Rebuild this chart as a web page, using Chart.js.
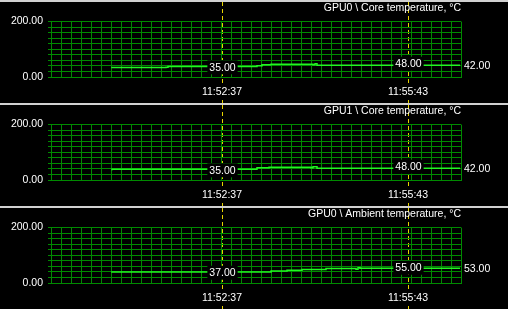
<!DOCTYPE html>
<html>
<head>
<meta charset="utf-8">
<script src="https://cdn.jsdelivr.net/npm/chart.js@4/dist/chart.umd.min.js"></script>
<style>
    html, body { margin: 0; padding: 0; background: #000; overflow: hidden; }
    .panel { width: 508px; height: 101px; border-top: 2px solid #d0d0d0; }
    canvas { display: block; }
</style>
</head>
<body>
<div class="panel"><canvas id="graph0" width="508" height="101"></canvas></div>
<div class="panel"><canvas id="graph1" width="508" height="101"></canvas></div>
<div class="panel"><canvas id="graph2" width="508" height="101"></canvas></div>
<script>
// Ventana visible del monitor
const inicioVentana = '11:49:46';
const duracionVentana = 410; // segundos
const cursores = ['11:52:37', '11:55:43'];

const yMin = 0;
const yMax = 200;
const yPaso = 20;
const yEtiquetas = [0, 200];

const titulos = [
    'GPU0 \\ Core temperature, °C',
    'GPU1 \\ Core temperature, °C',
    'GPU0 \\ Ambient temperature, °C'
];

// GPU0 core
const gpu0CoreTiempos = ['11:50:47', '11:51:41', '11:51:43', '11:53:12', '11:53:17', '11:53:26', '11:54:08', '11:54:10', '11:54:12', '11:56:16', '11:56:35'];
const gpu0CoreValores = [37, 34, 35, 38, 41, 44, 46, 44, 48, 42, 42];

// GPU1 core
const gpu1CoreTiempos = ['11:50:47', '11:53:12', '11:53:24', '11:54:06', '11:54:08', '11:54:12', '11:56:16', '11:56:35'];
const gpu1CoreValores = [35, 39, 44, 46, 44, 48, 42, 42];

// GPU0 ambient
const gpu0AmbTiempos = ['11:50:47', '11:53:26', '11:53:42', '11:53:57', '11:54:21', '11:54:51', '11:54:53', '11:54:55', '11:56:21', '11:56:35'];
const gpu0AmbValores = [37, 40, 43, 46, 49, 52, 50, 55, 53, 53];

const verdeRejilla = '#008a00';
const verdeLinea = '#22f522';
const amarilloCursor = '#e8d400';
const colorTexto = '#ffffff';
const fuente = { family: '"Liberation Sans", Arial, sans-serif', size: 10.5 };

function aSegundos(hora) {
    const [h, m, s] = hora.split(':').map(Number);
    return h * 3600 + m * 60 + s;
}

function aHora(seg) {
    const h = Math.floor(seg / 3600);
    const m = Math.floor((seg % 3600) / 60);
    const s = seg % 60;
    return [h, m, s].map(n => String(n).padStart(2, '0')).join(':');
}

const base = aSegundos(inicioVentana);
const posCursores = cursores.map(c => aSegundos(c) - base);

function valorEn(puntos, x) {
    let v = null;
    puntos.forEach(p => { if (p.x <= x) v = p.y; });
    return v;
}

function etiquetaCaja(ctx, texto, x, y, alinear) {
    ctx.font = `${fuente.size}px ${fuente.family}`;
    const w = ctx.measureText(texto).width;
    const izq = alinear === 'left' ? x : x - w / 2;
    ctx.fillStyle = '#000';
    ctx.fillRect(izq - 2, y - 7, w + 4, 14);
    ctx.fillStyle = colorTexto;
    ctx.textAlign = 'left';
    ctx.textBaseline = 'middle';
    ctx.fillText(texto, izq, y + 0.5);
}

const cursoresPlugin = {
    id: 'cursores',
    beforeDraw(chart) {
        const ctx = chart.ctx;
        const escalaX = chart.scales.x;
        ctx.save();
        ctx.strokeStyle = amarilloCursor;
        ctx.lineWidth = 1;
        ctx.setLineDash([4, 3]);
        posCursores.forEach(c => {
            const px = Math.round(escalaX.getPixelForValue(c)) + 0.5;
            ctx.beginPath();
            ctx.moveTo(px, 0);
            ctx.lineTo(px, chart.height);
            ctx.stroke();
        });
        ctx.restore();
    },
    afterDatasetsDraw(chart) {
        const ctx = chart.ctx;
        const escalaX = chart.scales.x;
        const escalaY = chart.scales.y;
        const puntos = chart.data.datasets[0].data;
        ctx.save();
        posCursores.forEach(c => {
            const v = valorEn(puntos, c);
            etiquetaCaja(ctx, v.toFixed(2), Math.round(escalaX.getPixelForValue(c)) + 0.5, escalaY.getPixelForValue(v), 'center');
        });
        const ultimo = puntos[puntos.length - 1].y;
        etiquetaCaja(ctx, ultimo.toFixed(2), chart.chartArea.right + 3, escalaY.getPixelForValue(ultimo), 'left');
        ctx.restore();
    }
};

function crearGrafica(id, titulo, tiempos, valores) {
    const puntos = tiempos.map((t, i) => ({ x: aSegundos(t) - base, y: valores[i] }));
    return new Chart(document.getElementById(id), {
        type: 'line',
        data: {
            datasets: [{
                data: puntos,
                borderColor: verdeLinea,
                borderWidth: 1.5,
                stepped: 'after',
                pointRadius: 0,
                fill: false
            }]
        },
        options: {
            responsive: false,
            animation: false,
            events: [],
            layout: { padding: { left: 0, right: 47, top: 0, bottom: 0 } },
            plugins: {
                legend: { display: false },
                tooltip: { enabled: false },
                title: {
                    display: true,
                    text: titulo,
                    align: 'end',
                    color: colorTexto,
                    font: { ...fuente, weight: 'normal' },
                    padding: { top: 0, bottom: 7 }
                }
            },
            scales: {
                x: {
                    type: 'linear',
                    min: 0,
                    max: duracionVentana,
                    ticks: { display: false, stepSize: 10, autoSkip: false },
                    grid: { color: verdeRejilla, drawTicks: false },
                    border: { color: verdeRejilla },
                    afterFit: s => { s.height = 0; }
                },
                tiempo: {
                    type: 'linear',
                    position: 'bottom',
                    min: 0,
                    max: duracionVentana,
                    afterBuildTicks: s => { s.ticks = posCursores.map(v => ({ value: v })); },
                    ticks: {
                        color: colorTexto,
                        font: fuente,
                        padding: 9,
                        autoSkip: false,
                        maxRotation: 0,
                        showLabelBackdrop: true,
                        backdropColor: '#000',
                        backdropPadding: 1,
                        callback: v => aHora(base + v)
                    },
                    grid: { display: false, drawTicks: false },
                    border: { display: false },
                    afterFit: s => { s.height = 26; }
                },
                y: {
                    min: yMin,
                    max: yMax,
                    ticks: {
                        stepSize: yPaso,
                        autoSkip: false,
                        color: colorTexto,
                        font: fuente,
                        padding: 5,
                        callback: v => yEtiquetas.includes(v) ? v.toFixed(2) : ''
                    },
                    grid: { color: verdeRejilla, tickLength: 3 },
                    border: { color: verdeRejilla },
                    afterFit: s => { s.width = 51; }
                }
            }
        },
        plugins: [cursoresPlugin]
    });
}

document.addEventListener('DOMContentLoaded', () => {
    crearGrafica('graph0', titulos[0], gpu0CoreTiempos, gpu0CoreValores);
    crearGrafica('graph1', titulos[1], gpu1CoreTiempos, gpu1CoreValores);
    crearGrafica('graph2', titulos[2], gpu0AmbTiempos, gpu0AmbValores);
});
</script>
</body>
</html>
